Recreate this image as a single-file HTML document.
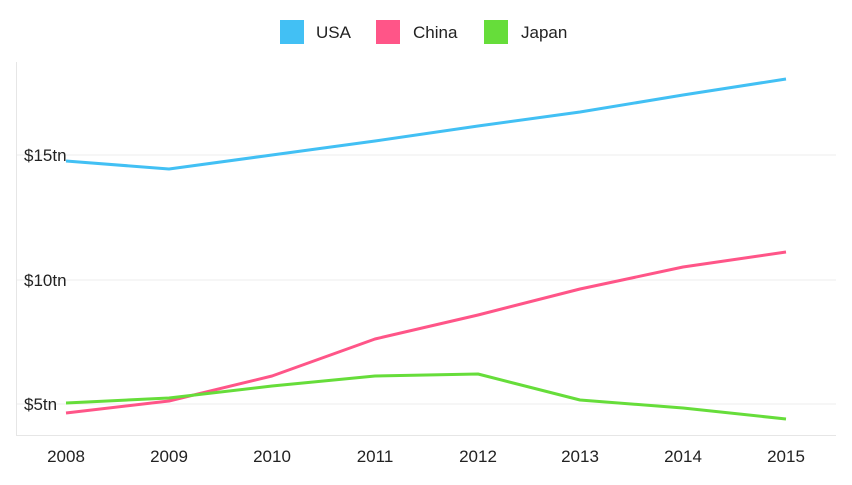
<!DOCTYPE html>
<html><head><meta charset="utf-8"><style>
body{margin:0;background:#fff;}
svg text{font-family:"Liberation Sans",sans-serif;fill:#222;}
</style></head><body>
<svg width="852" height="480" xmlns="http://www.w3.org/2000/svg">
<rect x="280" y="20" width="24" height="24" fill="#42c0f4"/>
<text x="316" y="38" font-size="17">USA</text>
<rect x="376" y="20" width="24" height="24" fill="#ff5588"/>
<text x="413" y="38" font-size="17">China</text>
<rect x="484" y="20" width="24" height="24" fill="#66dd3a"/>
<text x="521" y="38" font-size="17">Japan</text>
<g stroke="#eeeeee" stroke-width="1">
<line x1="16" y1="155" x2="836" y2="155"/>
<line x1="16" y1="280" x2="836" y2="280"/>
<line x1="16" y1="404" x2="836" y2="404"/>
</g>
<line x1="16.5" y1="62" x2="16.5" y2="435" stroke="#e6e6e6"/>
<line x1="16" y1="435.5" x2="836" y2="435.5" stroke="#e6e6e6"/>
<g font-size="17">
<text x="24" y="161">$15tn</text>
<text x="24" y="286">$10tn</text>
<text x="24" y="410">$5tn</text>
</g>
<g font-size="17" text-anchor="middle">
<text x="66" y="462">2008</text><text x="169" y="462">2009</text><text x="272" y="462">2010</text><text x="375" y="462">2011</text><text x="478" y="462">2012</text><text x="580" y="462">2013</text><text x="683" y="462">2014</text><text x="786" y="462">2015</text>
</g>
<g fill="none" stroke-width="3" stroke-linejoin="round">
<polyline stroke="#42c0f4" points="66,161 169,169 272,155 375,141 478,126 580,112 683,95 786,79"/>
<polyline stroke="#ff5588" points="66,413 169,401 272,376 375,339 478,315 580,289 683,267 786,252"/>
<polyline stroke="#66dd3a" points="66,403 169,398 272,386 375,376 478,374 580,400 683,408 786,419"/>
</g>
</svg>
</body></html>
